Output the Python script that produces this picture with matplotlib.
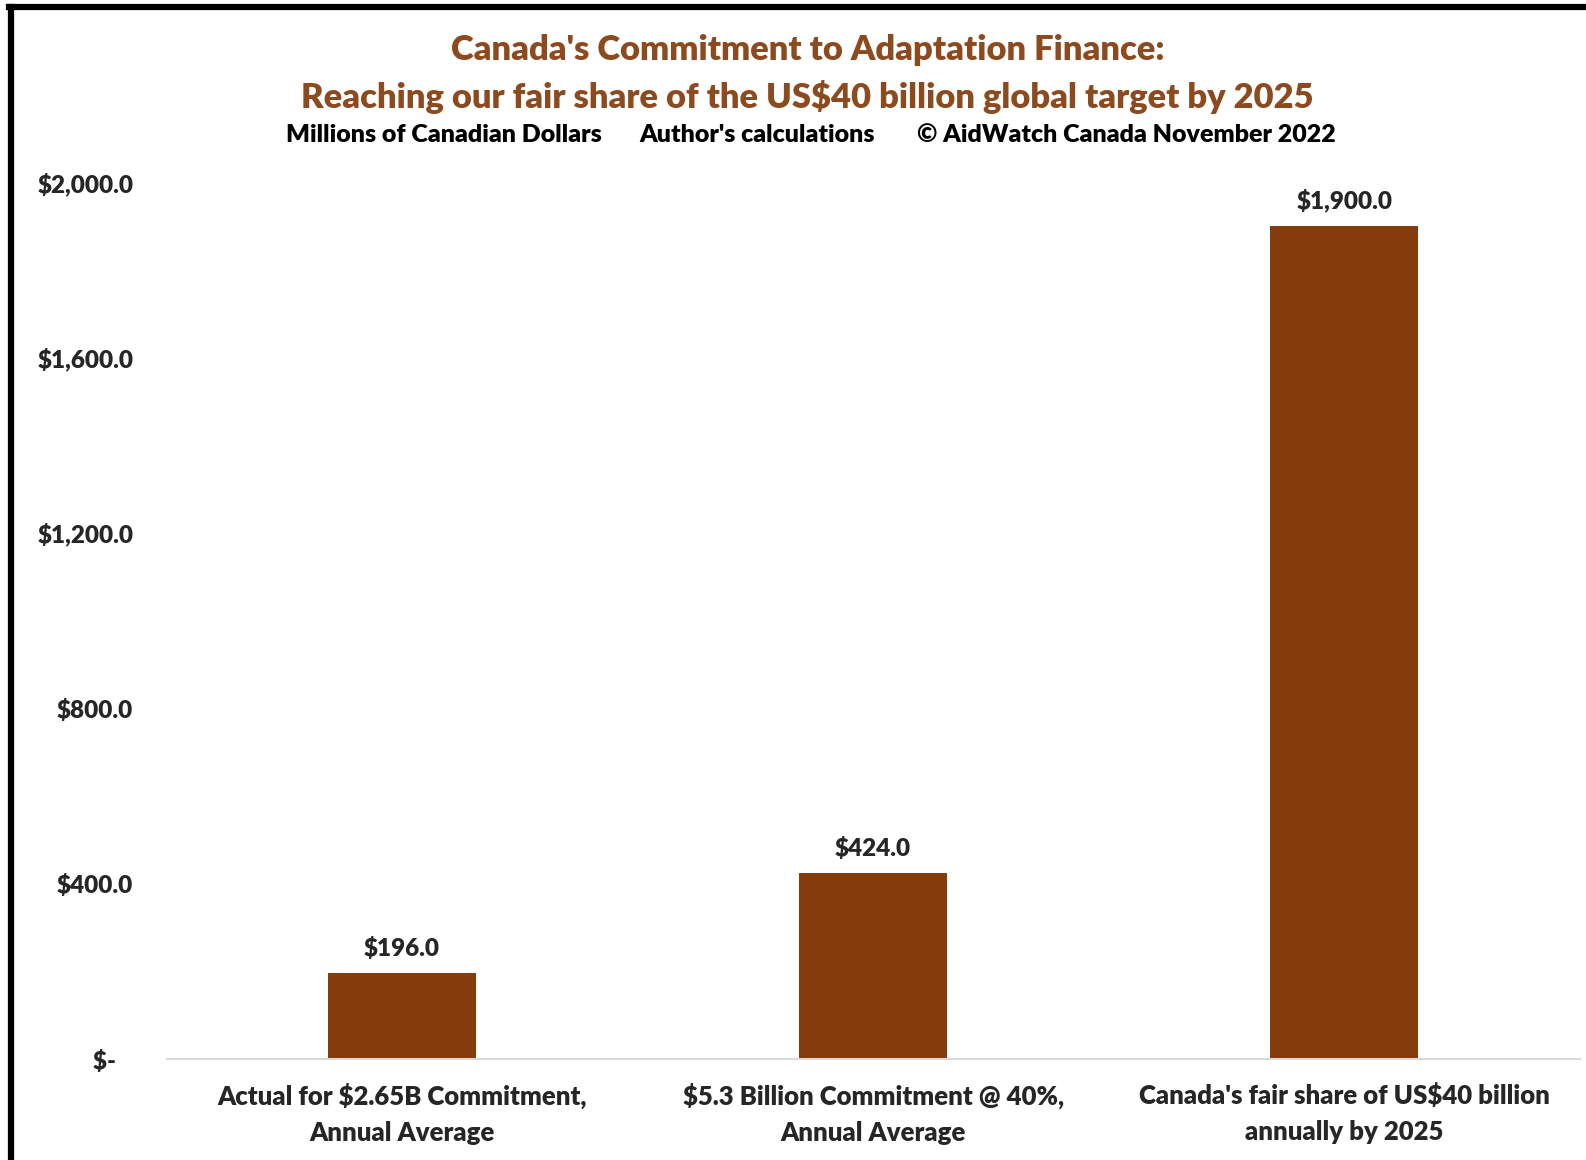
import matplotlib.pyplot as plt
from matplotlib.ticker import FuncFormatter
from matplotlib.lines import Line2D

# -------------------------------------------------
# Data (millions of Canadian dollars)
# -------------------------------------------------

categories = [
    "Actual for $2.65B Commitment,\nAnnual Average",
    "$5.3 Billion Commitment @ 40%,\nAnnual Average",
    "Canada's fair share of US$40 billion\nannually by 2025",
]
values = [196.0, 424.0, 1900.0]
y_ticks = [0, 400, 800, 1200, 1600, 2000]

title_lines = [
    "Canada's Commitment to Adaptation Finance:",
    "Reaching our fair share of the US$40 billion global target by 2025",
]
subtitle_parts = [
    "Millions of Canadian Dollars",
    "Author's calculations",
    "\u00a9 AidWatch Canada November 2022",
]

BAR_COLOR = "#843C0C"
TITLE_COLOR = "#8C4A1E"
TEXT_COLOR = "#262626"

plt.rcParams["font.family"] = ["Lato", "DejaVu Sans"]
plt.rcParams["font.weight"] = "heavy"

fig = plt.figure(figsize=(15.86, 11.60), dpi=100)
ax = fig.add_axes([0.105, 0.087, 0.891, 0.756])

x = range(len(categories))
bars = ax.bar(x, values, width=0.314, color=BAR_COLOR, zorder=2)

ax.set_xlim(-0.5, len(categories) - 0.5)
ax.set_ylim(0, 2000)
ax.set_yticks(y_ticks)


def money(v, pos=None):
    if v == 0:
        return "$-   "
    return f"${v:,.1f}"


ax.yaxis.set_major_formatter(FuncFormatter(money))
ax.tick_params(axis="y", length=0, pad=24, labelsize=17.5, labelcolor=TEXT_COLOR)

ax.set_xticks(list(x))
ax.set_xticklabels(categories, fontsize=18.5, color=TEXT_COLOR, linespacing=1.6)
ax.tick_params(axis="x", length=0, pad=17)

for side in ["top", "right", "left"]:
    ax.spines[side].set_visible(False)
ax.spines["bottom"].set_color("#d9d9d9")
ax.spines["bottom"].set_linewidth(1.5)

# value labels above bars
for b, v in zip(bars, values):
    ax.annotate(
        f"${v:,.1f}",
        (b.get_x() + b.get_width() / 2, v),
        xytext=(0, 18),
        textcoords="offset points",
        ha="center",
        va="center",
        fontsize=17.5,
        color=TEXT_COLOR,
    )

# titles
fig.text(0.509, 1 - 50 / 1160, title_lines[0], ha="center", va="center",
         fontsize=24.8, color=TITLE_COLOR)
fig.text(0.509, 1 - 97 / 1160, title_lines[1], ha="center", va="center",
         fontsize=24.8, color=TITLE_COLOR)

sub_x = [443.5, 757, 1126]
for sx, s in zip(sub_x, subtitle_parts):
    fig.text(sx / 1586, 1 - 135 / 1160, s, ha="center", va="center",
             fontsize=18, color="black")

# black frame on the left and top edges
fig.add_artist(Line2D([11 / 1586, 11 / 1586], [0, 1 - 7 / 1160],
                      transform=fig.transFigure, color="black", linewidth=4.5))
fig.add_artist(Line2D([9 / 1586, 1], [1 - 7 / 1160, 1 - 7 / 1160],
                      transform=fig.transFigure, color="black", linewidth=4.5))

fig.savefig("out.png", dpi=100)
